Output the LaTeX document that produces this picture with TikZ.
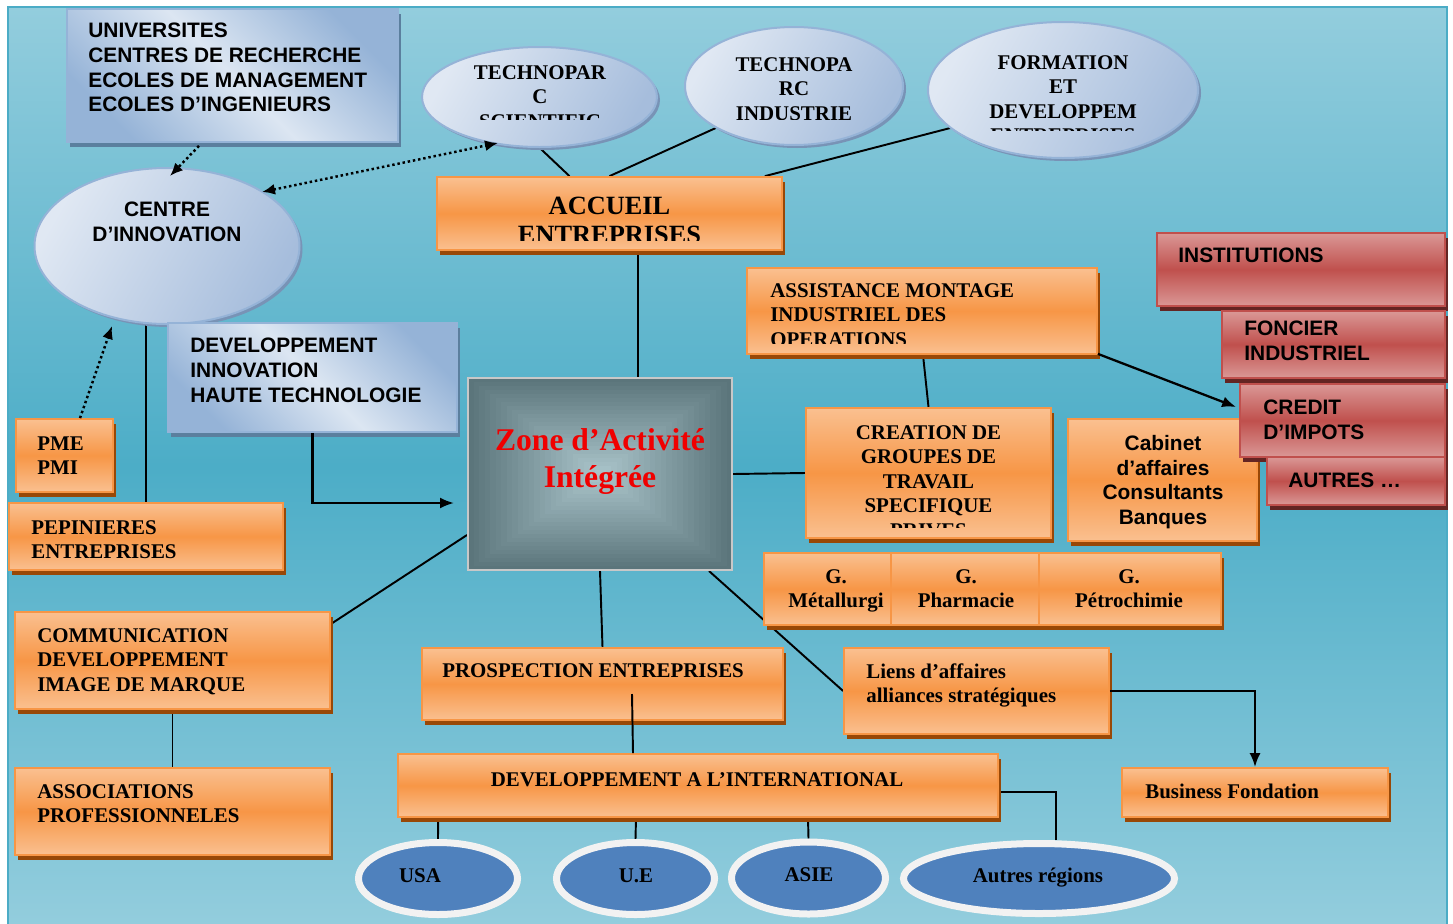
\documentclass[tikz,border=0pt]{standalone}
\usepackage{fontspec}
\setmainfont{Liberation Serif}
\newfontfamily\arialf{Liberation Sans}
\usetikzlibrary{shapes.geometric,arrows.meta,shadows}
\definecolor{bgL}{HTML}{93CDDD}
\definecolor{bgD}{HTML}{4CADC7}
\definecolor{bgB}{HTML}{4BACC6}
\definecolor{oL}{HTML}{FAC090}
\definecolor{oM}{HTML}{F79646}
\definecolor{oB}{HTML}{F79646}
\definecolor{oS}{HTML}{984807}
\definecolor{rL}{HTML}{DA9896}
\definecolor{rM}{HTML}{C0504D}
\definecolor{rB}{HTML}{C0504D}
\definecolor{rS}{HTML}{632523}
\definecolor{bL}{HTML}{DCE6F2}
\definecolor{bD}{HTML}{95B3D7}
\definecolor{bS}{HTML}{5B7F9E}
\definecolor{eL}{HTML}{E0E8F3}
\definecolor{eD}{HTML}{A6BDDC}
\definecolor{eB}{HTML}{95B3D7}
\definecolor{eS}{HTML}{7893B6}
\definecolor{zL}{HTML}{A9C3C9}
\definecolor{zD}{HTML}{5B757B}
\definecolor{zB}{HTML}{C8C8C8}
\definecolor{uB}{HTML}{4F81BD}
\definecolor{uR}{HTML}{F2F2F2}
\definecolor{zred}{HTML}{F00000}
\pgfdeclarelayer{back}
\pgfdeclarelayer{conn}
\pgfsetlayers{back,conn,main}
\newcommand\mkbox[6]{\node[#2, minimum width={(#5-#3)*0.02cm}, minimum height={(#6-#4)*0.02cm}] (#1) at ({(#3+#5)/2},{(#4+#6)/2}) {};}
\newcommand\mkell[6]{\node[#2, minimum width={#5*0.02cm}, minimum height={#6*0.02cm}] (#1) at (#3,#4) {};}
\begin{document}
\begin{tikzpicture}[x=0.02cm,y=-0.02cm,
  obox/.style={rectangle, inner sep=0pt, draw=oB, line width=0.035cm, top color=oL, bottom color=oL, middle color=oM,
    drop shadow={shadow xshift=0.06cm, shadow yshift=-0.1cm, fill=oS, opacity=1}},
  rbox/.style={rectangle, inner sep=0pt, draw=rB, line width=0.035cm, top color=rL, bottom color=rL, middle color=rM,
    drop shadow={shadow xshift=0.06cm, shadow yshift=-0.1cm, fill=rS, opacity=1}},
  bbox/.style={rectangle, inner sep=0pt, draw=bD, line width=0.035cm, left color=bD, right color=bD, middle color=bL, shading angle=135,
    drop shadow={shadow xshift=0.06cm, shadow yshift=-0.1cm, fill=bS, opacity=1}},
  ell/.style={ellipse, inner sep=0pt, draw=eB, line width=0.04cm, left color=eL, right color=eD, shading angle=60,
    drop shadow={shadow xshift=0.06cm, shadow yshift=-0.06cm, fill=eS, opacity=1}},
  bell/.style={ellipse, inner sep=0pt, draw=uR, line width=0.14cm, fill=uB},
  sf/.style={inner sep=0pt, align=left, font=\arialf\bfseries\fontsize{11.9pt}{14pt}\selectfont},
  rm/.style={inner sep=0pt, align=left, font=\bfseries\fontsize{11.9pt}{14pt}\selectfont},
  con/.style={draw=black, line width=1.1pt},
  arr/.style={draw=black, line width=1.3pt, -{Latex[length=0.28cm,width=0.22cm]}},
  dots/.style={draw=black, line width=1.4pt, dash pattern=on 1.4pt off 1.6pt}
]
\useasboundingbox (0,0) rectangle (1453,923);
\begin{pgfonlayer}{back}
\fill[white] (0,0) rectangle (1453,923);
\path[top color=bgL, bottom color=bgL, middle color=bgD, draw=bgB, line width=0.04cm] (8,7) rectangle (1447,925);
\end{pgfonlayer}

% top left
\mkbox{uni}{bbox}{67}{9}{398}{142}
\node[sf, anchor=north west] (t-uni) at (88,23) {UNIVERSITES\\CENTRES DE RECHERCHE\\ECOLES DE MANAGEMENT\\ECOLES D’INGENIEURS};
\mkell{ci}{ell}{167}{246}{265}{156}
\node[sf, align=center, anchor=north] (t-ci) at (167,202) {CENTRE\\D’INNOVATION};

% top ellipses
\mkell{tps}{ell}{539.5}{97}{235}{100}
\begin{scope}
\clip (420,40) rectangle (660,119.5);
\node[rm, align=center, anchor=north] (t-tps) at (540,65) {TECHNOPAR\\C\\SCIENTIFIC};
\end{scope}
\mkell{tpi}{ell}{794}{86}{218}{118}
\begin{scope}
\clip (680,20) rectangle (910,119.5);
\node[rm, align=center, anchor=north] (t-tpi) at (794,57) {TECHNOPA\\RC\\INDUSTRIE};
\end{scope}
\mkell{fd}{ell}{1063}{90}{270}{136}
\begin{scope}
\clip (925,15) rectangle (1200,130.5);
\node[rm, align=center, anchor=north] (t-fd) at (1063,55) {FORMATION\\ET\\DEVELOPPEM\\ENTREPRISES};
\end{scope}

% accueil
\mkbox{acc}{obox}{437}{177}{782}{250}
\begin{scope}
\clip (437,177) rectangle (782,240);
\node[rm, align=center, anchor=north, font=\bfseries\fontsize{15pt}{16.4pt}\selectfont] (t-acc) at (609.5,197) {ACCUEIL\\ENTREPRISES};
\end{scope}

% left column
\mkbox{dih}{bbox}{168}{323}{457}{432}
\node[sf, anchor=north west] (t-dih) at (190,338) {DEVELOPPEMENT\\INNOVATION\\HAUTE TECHNOLOGIE};
\mkbox{pme}{obox}{16}{419}{113}{492}
\node[rm, anchor=north west] (t-pme) at (37,436) {PME\\PMI};
\mkbox{pep}{obox}{9}{503}{283}{570}
\node[rm, anchor=north west] (t-pep) at (31,520) {PEPINIERES\\ENTREPRISES};
\mkbox{com}{obox}{15}{612}{330}{709}
\node[rm, anchor=north west] (t-com) at (37,628) {COMMUNICATION\\DEVELOPPEMENT\\IMAGE DE MARQUE};
\mkbox{asso}{obox}{15}{768}{330}{855}
\node[rm, anchor=north west] (t-asso) at (37,784) {ASSOCIATIONS\\PROFESSIONNELES};

% zone
\foreach \i in {0,...,23}{
  \pgfmathsetmacro\f{100*\i/23}
  \fill[zL!\f!zD] ({600-132*(1-\i/24)},{474-96*(1-\i/24)}) rectangle ({600+132*(1-\i/24)},{474+96*(1-\i/24)});
}
\mkbox{zone}{draw=zB, line width=0.04cm, inner sep=0pt}{468}{378}{732}{570}
\node[rm, align=center, anchor=north, text=zred, font=\bfseries\fontsize{18pt}{21pt}\selectfont] (t-zone) at (600,428) {Zone d’Activité\\Intégrée};

% middle bottom
\mkbox{pros}{obox}{422}{648}{783}{720}
\node[rm, anchor=north west] (t-pros) at (442,663) {PROSPECTION ENTREPRISES};
\mkbox{dint}{obox}{398}{754}{998}{817}
\node[rm, anchor=north] (t-dint) at (697,772) {DEVELOPPEMENT A L’INTERNATIONAL};
\mkell{usa}{bell}{438}{878.5}{159}{72}
\node[rm, anchor=north] (t-usa) at (420,868) {USA};
\mkell{ue}{bell}{635.5}{878.5}{158}{72}
\node[rm, anchor=north] (t-ue) at (636,868) {U.E};
\mkell{asie}{bell}{808.5}{878}{154}{72}
\node[rm, anchor=north] (t-asie) at (809,867) {ASIE};
\mkell{autres}{bell}{1039}{878.5}{271}{70}
\node[rm, anchor=north] (t-autres) at (1038,868) {Autres régions};

% right middle
\mkbox{assist}{obox}{747}{268}{1097}{354}
\begin{scope}
\clip (747,268) rectangle (1097,343);
\node[rm, anchor=north west] (t-assist) at (770,283) {ASSISTANCE MONTAGE\\INDUSTRIEL DES\\OPERATIONS};
\end{scope}
\mkbox{crea}{obox}{806}{408}{1051}{538}
\begin{scope}
\clip (806,408) rectangle (1051,527);
\node[rm, align=center, anchor=north] (t-crea) at (928.5,425) {CREATION DE\\GROUPES DE\\TRAVAIL\\SPECIFIQUE\\PRIVES};
\end{scope}
\mkbox{gm}{obox}{764}{553}{891}{625}
\node[rm, align=center, anchor=north] (t-gm) at (836,569) {G.\\Métallurgi};
\mkbox{gp}{obox}{891}{553}{1039}{625}
\node[rm, align=center, anchor=north] (t-gp) at (966,569) {G.\\Pharmacie};
\mkbox{gpe}{obox}{1039}{553}{1221}{625}
\node[rm, align=center, anchor=north] (t-gpe) at (1129,569) {G.\\Pétrochimie};
\mkbox{cab}{obox}{1068}{419}{1257}{541}
\node[sf, align=center, anchor=north] (t-cab) at (1163,435) {Cabinet\\d’affaires\\Consultants\\Banques};

% red stack
\mkbox{inst}{rbox}{1157}{233}{1445}{306}
\node[sf, anchor=north west] (t-inst) at (1178,248) {INSTITUTIONS};
\mkbox{fonc}{rbox}{1222}{311}{1445}{378}
\node[sf, anchor=north west] (t-fonc) at (1244,321) {FONCIER\\INDUSTRIEL};
\mkbox{cred}{rbox}{1240}{384}{1445}{457}
\node[sf, anchor=north west] (t-cred) at (1263,400) {CREDIT\\D’IMPOTS};
\mkbox{aut}{rbox}{1267}{457}{1445}{505}
\node[sf, anchor=north west] (t-aut) at (1288,473) {AUTRES …};

% bottom right
\mkbox{liens}{obox}{844}{648}{1109}{734}
\node[rm, anchor=north west] (t-liens) at (866,663) {Liens d’affaires\\alliances stratégiques};
\mkbox{bus}{obox}{1122}{768}{1388}{817}
\node[rm, anchor=north west] (t-bus) at (1145,784) {Business Fondation};

% connectors under shapes
\begin{pgfonlayer}{conn}
\draw[con] ([shift={(-5,-5)}]tps.south) -- ([shift={(-40,0)}]acc.north);
\draw[con] ([shift={(-76,-19)}]tpi.south) -- (acc.north);
\draw[con] ([shift={(-105,-33)}]fd.south) -- ([shift={(-18,0)}]acc.north east);
\draw[con] ([shift={(28.5,0)}]acc.south) -- ([shift={(38,0)}]zone.north);
\draw[con] ([shift={(-21,-2)}]ci.south) -- (pep.north);
\draw[con] ([shift={(1,0)}]assist.south) -- (crea.north);
\draw[con] (zone.east) -- (crea.west);
\draw[con] (zone.south) -- (pros.north);
\draw[con] ([shift={(-24,0)}]zone.south east) -- (liens.west);
\draw[con] ([shift={(0,61)}]zone.west) -- ([shift={(0,-36.5)}]com.east);
\draw[con] (com.south) -- (asso.north);
\draw[con] ([shift={(41,0)}]dint.south west) -- (usa.north);
\draw[con] ([shift={(-62,0)}]dint.south) -- (ue.north);
\draw[con] ([shift={(110,0)}]dint.south) -- (asie.north);
\draw[con] ([shift={(0,6.5)}]dint.east) -| ([shift={(17,0)}]autres.north);
\end{pgfonlayer}

% connectors over shapes
\draw[con] ([shift={(29.5,10)}]pros.center) -- ([shift={(-65,0)}]dint.north);
\draw[arr] (dih.south) |- ([shift={(-13,29)}]zone.west);
\draw[arr] ([shift={(0,-1)}]assist.south east) -- ([shift={(-3,-13.5)}]cred.west);
\draw[arr] (liens.east) -| (bus.north);
\draw[dots, -{Latex[length=0.26cm,width=0.22cm]}] ([shift={(-33.5,3)}]uni.south) -- ([shift={(3,9)}]ci.north);
\draw[dots, {Latex[length=0.26cm,width=0.22cm]}-{Latex[length=0.26cm,width=0.22cm]}] ([shift={(95,-54)}]ci.center) -- ([shift={(-41.5,-5)}]tps.south);
\draw[dots, -{Latex[length=0.26cm,width=0.22cm]}] ([shift={(15.5,0)}]pme.north) -- ([shift={(-55,1)}]ci.south);
\end{tikzpicture}
\end{document}
